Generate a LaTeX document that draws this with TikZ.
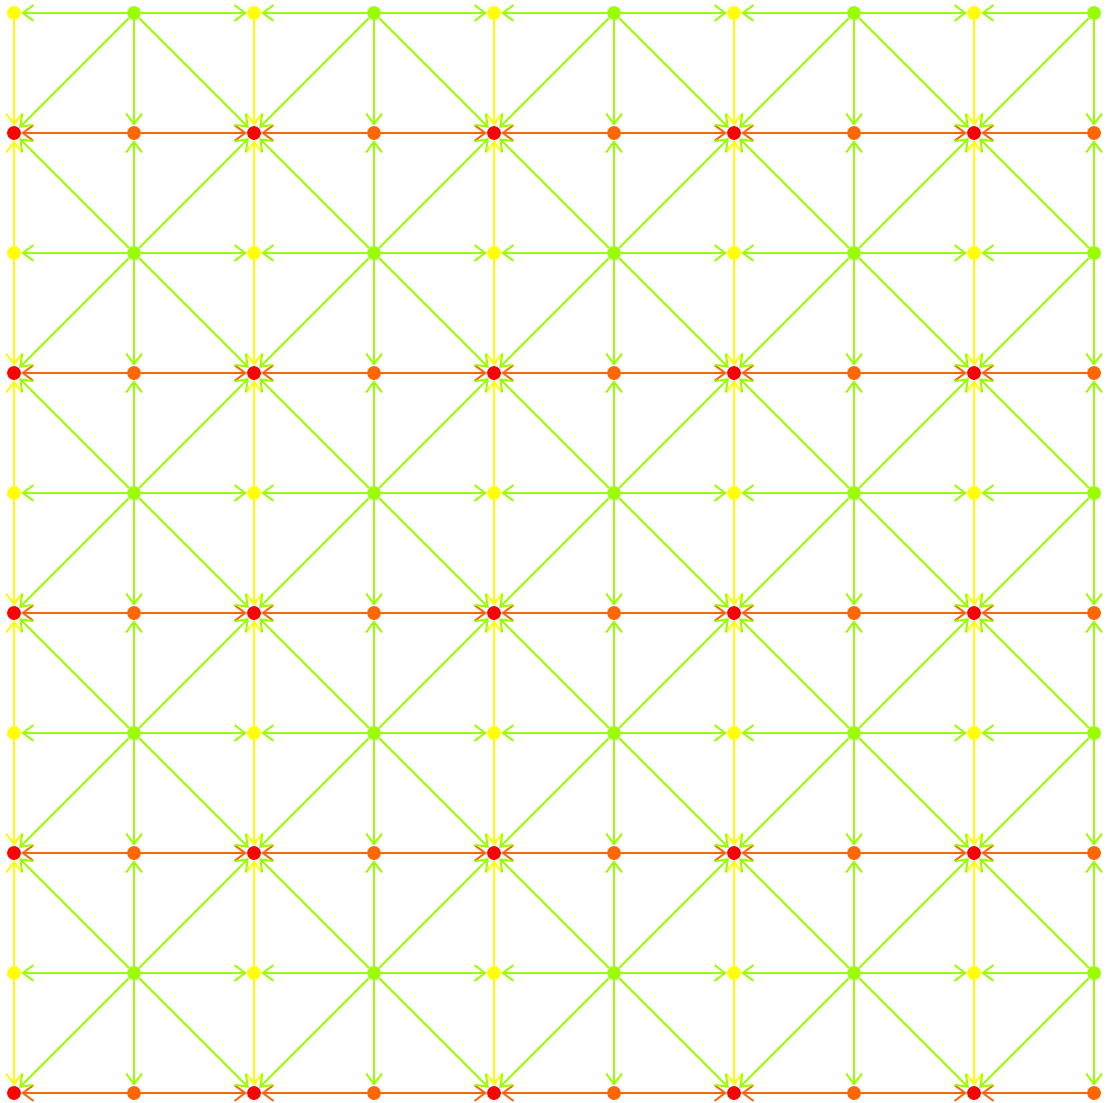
\documentclass[tikz,border=0pt]{standalone}
\usepackage{xcolor}
\usepackage{tikz}
\usetikzlibrary{arrows.meta}

\definecolor{ylw}{HTML}{FFFF00}
\definecolor{grn}{HTML}{99FF00}
\definecolor{org}{HTML}{FF6600}
\definecolor{rd}{HTML}{FF0000}

\begin{document}
\begin{tikzpicture}[
  dot/.style={circle, inner sep=0pt, minimum size=0.23cm},
  arrow/.style={-{Straight Barb[length=5pt,width=7.5pt]}, line width=0.9pt}
]
  \useasboundingbox (-0.2333,-18.15) rectangle (18.35,0.2167);

  % grid points: even rows yellow/green, odd rows red/orange
  \foreach \i in {0,2,...,8} {
    \foreach \j in {0,2,...,8}
      \node[dot, fill=ylw] (p-\i-\j) at ({2*\i},{-2*\j}) {};
    \foreach \j in {1,3,...,9}
      \node[dot, fill=rd] (p-\i-\j) at ({2*\i},{-2*\j}) {};
  }
  \foreach \i in {1,3,...,9} {
    \foreach \j in {0,2,...,8}
      \node[dot, fill=grn] (p-\i-\j) at ({2*\i},{-2*\j}) {};
    \foreach \j in {1,3,...,9}
      \node[dot, fill=org] (p-\i-\j) at ({2*\i},{-2*\j}) {};
  }

  % rows
  \foreach \j [evaluate=\j as \k using int(\j+1)] in {0,2,...,8} {
    \foreach \i [evaluate=\i as \l using int(\i-1)] in {1,3,...,9} {
      \draw[arrow, grn] (p-\i-\j) -- (p-\l-\j);
      \draw[arrow, org] (p-\i-\k) -- (p-\l-\k);
    }
    \foreach \i [evaluate=\i as \r using int(\i+1)] in {1,3,5,7} {
      \draw[arrow, grn] (p-\i-\j) -- (p-\r-\j);
      \draw[arrow, org] (p-\i-\k) -- (p-\r-\k);
    }
  }

  % columns
  \foreach \i in {0,...,9} {
    \pgfmathparse{isodd(\i) ? "grn" : "ylw"}
    \edef\col{\pgfmathresult}
    \foreach \j [evaluate=\j as \d using int(\j+1)] in {0,2,...,8}
      \draw[arrow, \col] (p-\i-\j) -- (p-\i-\d);
    \foreach \j [evaluate=\j as \u using int(\j-1)] in {2,4,...,8}
      \draw[arrow, \col] (p-\i-\j) -- (p-\i-\u);
  }

  % diagonals from green to red
  \foreach \i [evaluate=\i as \l using int(\i-1)] in {1,3,...,9} {
    \foreach \j [evaluate=\j as \d using int(\j+1)] in {0,2,...,8}
      \draw[arrow, grn] (p-\i-\j) -- (p-\l-\d);
    \foreach \j [evaluate=\j as \u using int(\j-1)] in {2,4,...,8}
      \draw[arrow, grn] (p-\i-\j) -- (p-\l-\u);
  }
  \foreach \i [evaluate=\i as \r using int(\i+1)] in {1,3,5,7} {
    \foreach \j [evaluate=\j as \d using int(\j+1)] in {0,2,...,8}
      \draw[arrow, grn] (p-\i-\j) -- (p-\r-\d);
    \foreach \j [evaluate=\j as \u using int(\j-1)] in {2,4,...,8}
      \draw[arrow, grn] (p-\i-\j) -- (p-\r-\u);
  }
\end{tikzpicture}
\end{document}
